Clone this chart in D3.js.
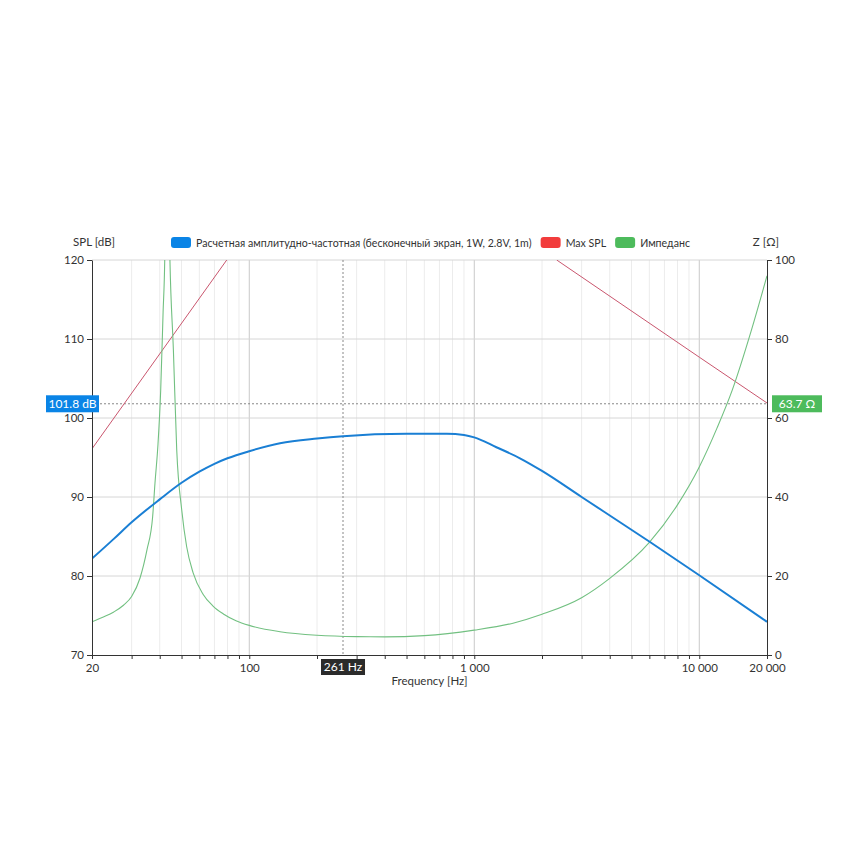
<!DOCTYPE html>
<html>
<head>
<meta charset="utf-8">
<script src="https://cdn.jsdelivr.net/npm/d3@7"></script>
<style>
  html, body { margin: 0; padding: 0; background: #fff; }
  svg { font-family: Lato, "Open Sans", sans-serif; }
  .axis text { font-size: 11.5px; fill: #333; font-family: Lato, "Open Sans", sans-serif; }
  .axis path, .axis line { stroke: #333; }
</style>
</head>
<body>
<div id="chart"></div>
<script>
// SPL / impedance chart, log frequency axis

// Calculated frequency response (Hz, dB)
const splFreq = [20, 25, 30, 40, 50, 60, 70, 80, 100, 137, 200, 261, 500, 755, 900, 1000, 1254, 1596, 2000, 3000, 6040, 10000, 20000];
const splValue = [82.2, 84.7, 86.8, 89.7, 91.8, 93.2, 94.2, 94.9, 95.8, 96.8, 97.4, 97.7, 98.0, 98.0, 97.85, 97.55, 96.3, 94.9, 93.3, 90.0, 84.3, 80.1, 74.2];

// Max SPL (Hz, dB) - middle part runs above the chart
const maxFreq = [20, 79.4, 150, 1000, 2325, 10000, 20000];
const maxValue = [96.1, 120, 131, 131, 120, 107.7, 101.9];

// Impedance (Hz, Ohm)
const zFreq = [20, 22.2, 25, 27.6, 30, 32.7, 35.1, 37.2, 38.1, 39.3, 40.4, 41.4, 42.1, 43.0, 44.4, 46.0, 47.6, 50.1, 52.7, 56.3, 62.3, 69, 76.7, 87.3, 100, 137, 200, 300, 400, 600, 1000, 1500, 2000, 3000, 4000, 6000, 8000, 10000, 12000, 14000, 17000, 20000];
const zValue = [8.4, 9.5, 10.9, 12.6, 14.8, 19.5, 26.6, 35, 43.5, 53.4, 67.1, 86.8, 100, 150, 100, 77.2, 51.9, 36.7, 27.4, 20.8, 15.4, 12.4, 10.4, 8.7, 7.5, 5.9, 5.0, 4.65, 4.6, 4.9, 6.3, 8.1, 10.3, 14.5, 19.4, 28.5, 38.0, 47.6, 57.5, 67.0, 82.0, 96];

const xMajor = [100, 1000, 10000];
const xMinor = [30, 40, 50, 60, 70, 80, 90, 200, 300, 400, 500, 600, 700, 800, 900,
                2000, 3000, 4000, 5000, 6000, 7000, 8000, 9000];
const xLabels = [20, 100, 1000, 10000, 20000];
const yLeftTicks = [70, 80, 90, 100, 110, 120];
const yRightTicks = [0, 20, 40, 60, 80, 100];

const legendItems = [
  { label: "Расчетная амплитудно-частотная (бесконечный экран, 1W, 2.8V, 1m)", color: "#0a84e6" },
  { label: "Max SPL", color: "#f23c3c" },
  { label: "Импеданс", color: "#4dbb5c" }
];

// cursor readout
const cursorFreq = 261;
const cursorSpl = 101.8;
const cursorZ = 63.7;

const W = 855, H = 852;
const margin = { top: 260, right: 88, bottom: 197, left: 92 };
const width = W - margin.left - margin.right;
const height = H - margin.top - margin.bottom;

const svg = d3.select("#chart").append("svg")
  .attr("width", W).attr("height", H);

const g = svg.append("g").attr("transform", `translate(${margin.left},${margin.top})`);

const x = d3.scaleLog().domain([20, 20000]).range([0, width]);
const yL = d3.scaleLinear().domain([70, 120]).range([height, 0]);
const yR = d3.scaleLinear().domain([0, 100]).range([height, 0]);

const fmt = d => d3.format(",")(d).replace(/,/g, " ");

// grid
g.append("g").selectAll("line").data(xMinor).join("line")
  .attr("x1", d => x(d)).attr("x2", d => x(d))
  .attr("y1", 0).attr("y2", height)
  .attr("stroke", "#ececec");
g.append("g").selectAll("line").data(xMajor).join("line")
  .attr("x1", d => x(d)).attr("x2", d => x(d))
  .attr("y1", 0).attr("y2", height)
  .attr("stroke", "#c9c9c9");
g.append("g").selectAll("line").data(yLeftTicks.slice(1)).join("line")
  .attr("x1", 0).attr("x2", width)
  .attr("y1", d => yL(d)).attr("y2", d => yL(d))
  .attr("stroke", "#d6d6d6");

// cursor lines
g.append("line")
  .attr("x1", x(cursorFreq)).attr("x2", x(cursorFreq))
  .attr("y1", 0).attr("y2", height)
  .attr("stroke", "#888").attr("stroke-dasharray", "2,2");
g.append("line")
  .attr("x1", 0).attr("x2", width)
  .attr("y1", yL(cursorSpl)).attr("y2", yL(cursorSpl))
  .attr("stroke", "#888").attr("stroke-dasharray", "2,2");

// series
g.append("clipPath").attr("id", "clip")
  .append("rect").attr("width", width).attr("height", height);
const plot = g.append("g").attr("clip-path", "url(#clip)");

const zip = (fs, vs) => fs.map((f, i) => [f, vs[i]]);

const lineL = d3.line().x(d => x(d[0])).y(d => yL(d[1])).curve(d3.curveMonotoneX);
const lineR = d3.line().x(d => x(d[0])).y(d => yR(d[1])).curve(d3.curveMonotoneX);
const lineStraight = d3.line().x(d => x(d[0])).y(d => yL(d[1]));

plot.append("path").datum(zip(maxFreq, maxValue))
  .attr("d", lineStraight).attr("fill", "none")
  .attr("stroke", "#c9566e").attr("stroke-width", 1);

plot.append("path").datum(zip(zFreq, zValue))
  .attr("d", lineR).attr("fill", "none")
  .attr("stroke", "#72c081").attr("stroke-width", 1.1);

plot.append("path").datum(zip(splFreq, splValue))
  .attr("d", lineL).attr("fill", "none")
  .attr("stroke", "#1a7fd4").attr("stroke-width", 2);

// axes
const xAxis = g.append("g").attr("class", "axis")
  .attr("transform", `translate(0,${height})`)
  .call(d3.axisBottom(x).tickValues(xLabels.concat(xMinor)).tickSize(4).tickSizeOuter(0)
    .tickFormat(d => xLabels.includes(d) ? fmt(d) : ""));
xAxis.selectAll("text").attr("dy", "0.9em");

g.append("g").attr("class", "axis")
  .call(d3.axisLeft(yL).tickValues(yLeftTicks).tickSize(5).tickSizeOuter(0));

g.append("g").attr("class", "axis")
  .attr("transform", `translate(${width},0)`)
  .call(d3.axisRight(yR).tickValues(yRightTicks).tickSize(5).tickSizeOuter(0));

// axis titles
svg.append("text").attr("x", 73).attr("y", 246)
  .attr("font-size", 11.5).attr("fill", "#333").text("SPL [dB]");
svg.append("text").attr("x", 779).attr("y", 246).attr("text-anchor", "end")
  .attr("font-size", 11.5).attr("fill", "#333").text("Z [Ω]");
svg.append("text").attr("x", margin.left + width / 2).attr("y", 685)
  .attr("text-anchor", "middle").attr("font-size", 11.5).attr("fill", "#333")
  .text("Frequency [Hz]");

// legend
const legend = svg.append("g").attr("transform", "translate(171,237)");
let lx = 0;
legendItems.forEach(item => {
  const it = legend.append("g").attr("transform", `translate(${lx},0)`);
  it.append("rect").attr("width", 20).attr("height", 11).attr("rx", 3)
    .attr("fill", item.color);
  const t = it.append("text").attr("x", 25).attr("y", 9.5)
    .attr("font-size", 10.6).attr("fill", "#333").text(item.label);
  lx += 25 + t.node().getComputedTextLength() + 9;
});

// cursor labels
function badge(x0, y0, w, h, text, fill) {
  const bg = svg.append("g");
  bg.append("rect").attr("x", x0).attr("y", y0)
    .attr("width", w).attr("height", h).attr("fill", fill);
  bg.append("text").attr("x", x0 + w / 2).attr("y", y0 + h / 2 + 4)
    .attr("text-anchor", "middle").attr("font-size", 12)
    .attr("fill", "#fff").text(text);
}
const cy = margin.top + yL(cursorSpl);
badge(46, cy - 8.5, 53, 17, cursorSpl.toFixed(1) + " dB", "#0a84e6");
badge(margin.left + width + 5, cy - 8.5, 50, 17, cursorZ.toFixed(1) + " Ω", "#4dbb5c");
badge(margin.left + x(cursorFreq) - 22, margin.top + height + 4, 44, 16, cursorFreq + " Hz", "#2b2b2b");
</script>
</body>
</html>
